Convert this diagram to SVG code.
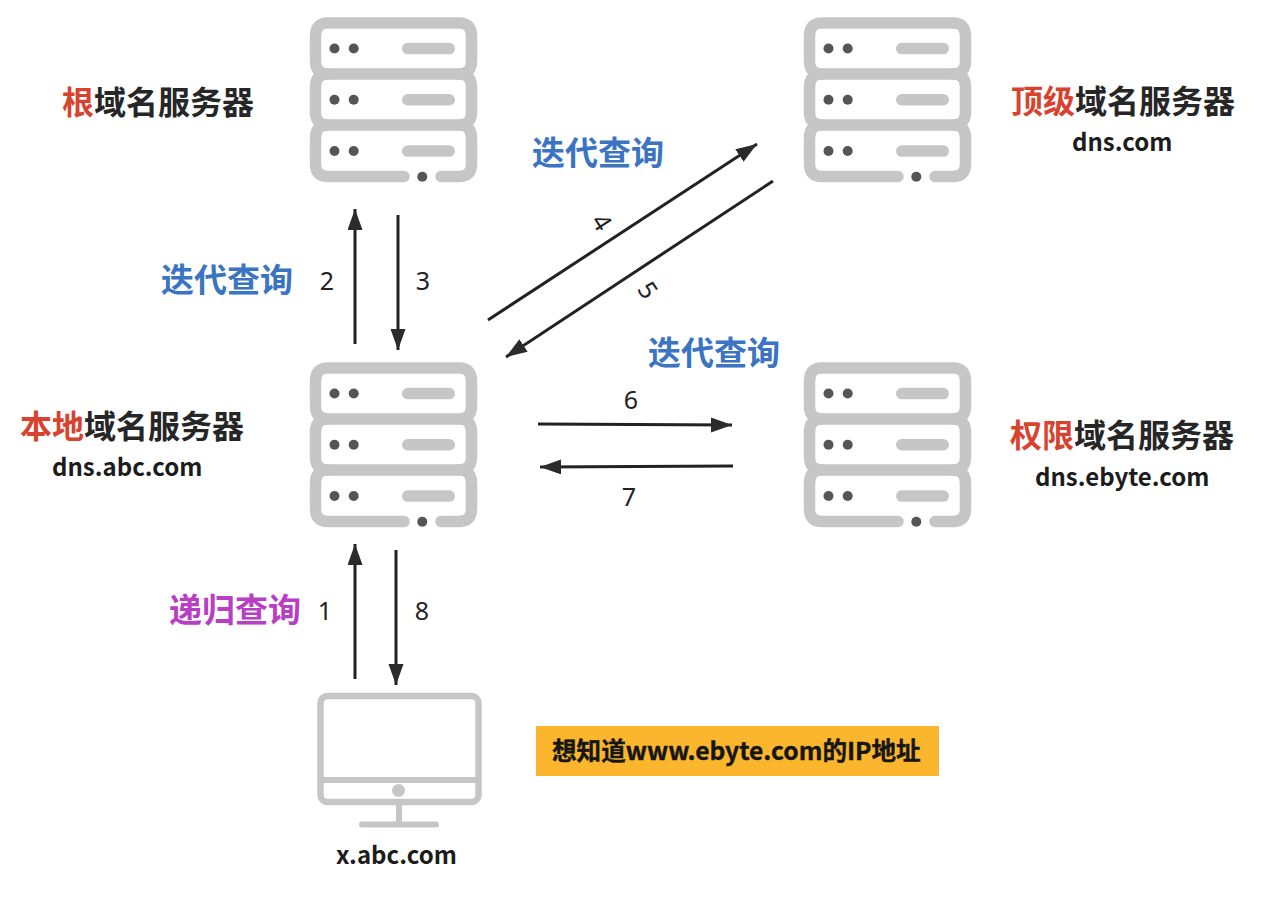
<svg xmlns="http://www.w3.org/2000/svg" width="1268" height="898" viewBox="0 0 1268 898">
<style>
text{font-family:"Noto Sans CJK SC","Noto Sans",sans-serif;font-weight:700}
.h{font-size:32px;fill:#262626}
.r{fill:#d8432f}
.b{font-size:33px;fill:#3a74c2}
.m{font-size:33px;fill:#b83fc4}
.d{font-size:24px;fill:#1c1c1c}
.n{font-family:"Noto Sans","Open Sans",sans-serif;font-weight:400;font-size:25px;fill:#222;text-anchor:middle}
.c{fill:none;stroke:#222;stroke-width:3}
.s{fill:none;stroke:#c6c6c6;stroke-width:11.5;stroke-linecap:round}
.bar{fill:#c6c6c6}
.dot{fill:#555}
</style>
<defs>
<marker id="a" markerUnits="userSpaceOnUse" markerWidth="22" markerHeight="16" refX="21" refY="7.500" orient="auto"><path d="M0 0L21 7.500L0 15Z" fill="#2b2b2b"/></marker>
<g id="srv">
<path class="s" d="M404 176.5H328Q315.500 176.500 315.500 164V138Q315.500 125 328 125H459Q471.500 125 471.500 138V164Q471.500 176.500 459 176.500H441"/>
<path class="s" d="M328 125Q315.500 125 315.500 112V87Q315.500 74 328 74H459Q471.500 74 471.500 87V112Q471.500 125 459 125"/>
<path class="s" d="M328 74Q315.500 74 315.500 61V36Q315.500 23 328 23H459Q471.500 23 471.500 36V61Q471.500 74 459 74"/>
<rect class="bar" x="402" y="42.800" width="53" height="11.500" rx="5.700"/>
<rect class="bar" x="402" y="94" width="53" height="11.500" rx="5.700"/>
<rect class="bar" x="402" y="145.300" width="53" height="11.500" rx="5.700"/>
<g class="dot"><circle cx="334.500" cy="48.500" r="5"/><circle cx="353.700" cy="48.500" r="5"/><circle cx="334.500" cy="99.700" r="5"/><circle cx="353.700" cy="99.700" r="5"/><circle cx="334.500" cy="151" r="5"/><circle cx="353.700" cy="151" r="5"/><circle cx="422.300" cy="176.700" r="5"/></g>
</g>
</defs>
<rect width="1268" height="898" fill="#fff"/>
<g id="connectors">
<path class="c" d="M355 344V209" marker-end="url(#a)"/>
<path class="c" d="M398 215V350" marker-end="url(#a)"/>
<path class="c" d="M488 320L757 144" marker-end="url(#a)"/>
<path class="c" d="M773 181L506 357" marker-end="url(#a)"/>
<path class="c" d="M538 424L732 425" marker-end="url(#a)"/>
<path class="c" d="M733 466L540 467" marker-end="url(#a)"/>
<path class="c" d="M355 679V544" marker-end="url(#a)"/>
<path class="c" d="M396 550V685" marker-end="url(#a)"/>
</g>
<g id="root-server"><use href="#srv"/><text class="h" x="62" y="114"><tspan class="r">根</tspan>域名服务器</text></g>
<g id="tld-server"><use href="#srv" x="494"/><text class="h" x="1011" y="113"><tspan class="r">顶级</tspan>域名服务器</text><text class="d" x="1072" y="151">dns.com</text></g>
<g id="local-server"><use href="#srv" y="345"/><text class="h" x="20" y="438"><tspan class="r">本地</tspan>域名服务器</text><text class="d" x="52" y="476">dns.abc.com</text></g>
<g id="auth-server"><use href="#srv" x="494" y="345"/><text class="h" x="1010" y="447"><tspan class="r">权限</tspan>域名服务器</text><text class="d" x="1035" y="486">dns.ebyte.com</text></g>
<g id="client">
<rect x="320.500" y="696" width="158" height="106" rx="7" fill="none" stroke="#c6c6c6" stroke-width="6.500"/>
<path d="M320 780H479M399 805V824" fill="none" stroke="#c6c6c6" stroke-width="6"/>
<circle cx="398.500" cy="790.500" r="6.500" fill="#c6c6c6"/>
<rect x="359" y="821.500" width="80" height="6" rx="3" fill="#c6c6c6"/>
<text class="d" x="336" y="864">x.abc.com</text>
</g>
<g id="note"><rect x="536" y="726" width="403" height="50" fill="#fbb62d"/><text x="552" y="760" font-size="24.600" fill="#161616" stroke="#161616" stroke-width="0.400">想知道www.ebyte.com的IP地址</text></g>
<g id="labels">
<text class="b" x="532" y="165">迭代查询</text>
<text class="b" x="161" y="292">迭代查询</text>
<text class="b" x="648" y="365">迭代查询</text>
<text class="m" x="169" y="622">递归查询</text>
<text class="n" x="327" y="290">2</text>
<text class="n" x="423" y="290">3</text>
<text class="n" transform="translate(602 222) rotate(57)" x="0" y="9">4</text>
<text class="n" transform="translate(648 290) rotate(57)" x="0" y="9">5</text>
<text class="n" x="631" y="409">6</text>
<text class="n" x="629" y="506">7</text>
<text class="n" x="325" y="620">1</text>
<text class="n" x="422" y="620">8</text>
</g>
</svg>
